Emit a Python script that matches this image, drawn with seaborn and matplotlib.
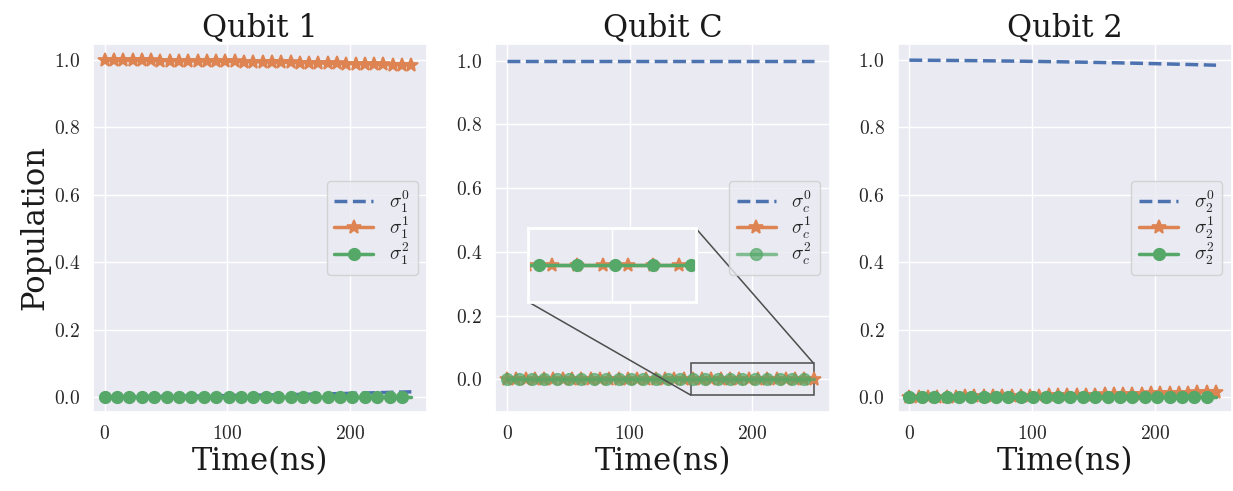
import numpy as np
import matplotlib
matplotlib.use("Agg")
import matplotlib.pyplot as plt
import seaborn as sns
from matplotlib.ticker import FuncFormatter
from mpl_toolkits.axes_grid1.inset_locator import mark_inset

# ---------------- data ----------------
time_ns = np.linspace(0, 250, 100)

leak_pop = [
    0.0000, 0.0001, 0.0001, 0.0002, 0.0003, 0.0003, 0.0004, 0.0004, 0.0005,
    0.0006, 0.0006, 0.0007, 0.0008, 0.0008, 0.0009, 0.0010, 0.0011, 0.0012, 0.0012,
    0.0013, 0.0014, 0.0015, 0.0016, 0.0017, 0.0018, 0.0019, 0.0020, 0.0021, 0.0022,
    0.0023, 0.0024, 0.0025, 0.0026, 0.0027, 0.0029, 0.0030, 0.0031, 0.0032, 0.0034,
    0.0035, 0.0036, 0.0037, 0.0039, 0.0040, 0.0042, 0.0043, 0.0044, 0.0046, 0.0047,
    0.0049, 0.0050, 0.0052, 0.0053, 0.0055, 0.0057, 0.0058, 0.0060, 0.0061, 0.0063,
    0.0065, 0.0067, 0.0068, 0.0070, 0.0072, 0.0074, 0.0075, 0.0077, 0.0079, 0.0081,
    0.0083, 0.0085, 0.0087, 0.0089, 0.0091, 0.0093, 0.0095, 0.0097, 0.0099, 0.0101,
    0.0103, 0.0105, 0.0108, 0.0110, 0.0112, 0.0114, 0.0116, 0.0119, 0.0121, 0.0123,
    0.0126, 0.0128, 0.0130, 0.0133, 0.0135, 0.0138, 0.0140, 0.0142, 0.0145, 0.0147,
    0.0150,
]

kept_pop = [
    1.0000, 0.9999, 0.9999, 0.9998, 0.9997, 0.9997, 0.9996, 0.9996, 0.9995,
    0.9994, 0.9994, 0.9993, 0.9992, 0.9992, 0.9991, 0.9990, 0.9989, 0.9988, 0.9988,
    0.9987, 0.9986, 0.9985, 0.9984, 0.9983, 0.9982, 0.9981, 0.9980, 0.9979, 0.9978,
    0.9977, 0.9976, 0.9975, 0.9974, 0.9973, 0.9971, 0.9970, 0.9969, 0.9968, 0.9966,
    0.9965, 0.9964, 0.9963, 0.9961, 0.9960, 0.9958, 0.9957, 0.9956, 0.9954, 0.9953,
    0.9951, 0.9950, 0.9948, 0.9947, 0.9945, 0.9943, 0.9942, 0.9940, 0.9939, 0.9937,
    0.9935, 0.9933, 0.9932, 0.9930, 0.9928, 0.9926, 0.9925, 0.9923, 0.9921, 0.9919,
    0.9917, 0.9915, 0.9913, 0.9911, 0.9909, 0.9907, 0.9905, 0.9903, 0.9901, 0.9899,
    0.9897, 0.9895, 0.9892, 0.9890, 0.9888, 0.9886, 0.9884, 0.9881, 0.9879, 0.9877,
    0.9874, 0.9872, 0.9870, 0.9867, 0.9865, 0.9862, 0.9860, 0.9858, 0.9855, 0.9853,
    0.9850,
]

zero_pop = [0.0] * 100
full_pop = [1.0] * 100

q1_sigma0 = leak_pop
q1_sigma1 = kept_pop
q1_sigma2 = zero_pop

qc_sigma0 = full_pop
qc_sigma1 = zero_pop
qc_sigma2 = zero_pop

q2_sigma0 = kept_pop
q2_sigma1 = leak_pop
q2_sigma2 = zero_pop

titles = ["Qubit 1", "Qubit C", "Qubit 2"]
subs = ["1", "c", "2"]
panels = [
    (q1_sigma0, q1_sigma1, q1_sigma2),
    (qc_sigma0, qc_sigma1, qc_sigma2),
    (q2_sigma0, q2_sigma1, q2_sigma2),
]

# ---------------- style ----------------
sns.set_theme(style="darkgrid")
plt.rcParams["font.family"] = ["DejaVu Serif"]
plt.rcParams["mathtext.fontset"] = "cm"

pal = sns.color_palette("deep")
c_blue, c_orange, c_green = pal[0], pal[1], pal[2]

fig, axes = plt.subplots(1, 3, figsize=(12.33, 4.91), dpi=100)
fig.subplots_adjust(left=93 / 1233, right=1232 / 1233,
                    bottom=1 - 412 / 491, top=1 - 44 / 491, wspace=0.2036)

yfmt = FuncFormatter(lambda v, p: "$%.1f$" % (0.0 if abs(v) < 1e-9 else v))
xfmt = FuncFormatter(lambda v, p: "$%d$" % int(round(v)))

STAR_MS = 10
CIRC_MS = 8.5


def draw(ax, s0, s1, s2, sub, green_alpha=1.0):
    sns.lineplot(x=time_ns, y=s0, ax=ax, color=c_blue, linestyle="--", lw=2.5,
                 label=r"$\sigma_{%s}^0$" % sub)
    sns.lineplot(x=time_ns, y=s1, ax=ax, color=c_orange, lw=2.5, marker="*",
                 markersize=STAR_MS, markevery=3, markeredgecolor=c_orange,
                 markeredgewidth=1.2, label=r"$\sigma_{%s}^1$" % sub)
    sns.lineplot(x=time_ns, y=s2, ax=ax, color=c_green, lw=2.5, marker="o",
                 markersize=CIRC_MS, markevery=4, markeredgecolor=c_green,
                 markeredgewidth=1, alpha=green_alpha,
                 label=r"$\sigma_{%s}^2$" % sub)


for i, ax in enumerate(axes):
    s0, s1, s2 = panels[i]
    draw(ax, s0, s1, s2, subs[i], green_alpha=0.7 if i == 1 else 1.0)
    ax.set_title(titles[i], fontsize=22, pad=6, color="0.1")
    ax.set_xlabel("Time(ns)", fontsize=22, labelpad=2, color="0.1")
    if i == 0:
        ax.set_ylabel("Population", fontsize=22, labelpad=2, color="0.1")
    else:
        ax.set_ylabel("")
    ax.set_xticks([0, 100, 200])
    ax.set_yticks([0.0, 0.2, 0.4, 0.6, 0.8, 1.0])
    ax.yaxis.set_major_formatter(yfmt)
    ax.xaxis.set_major_formatter(xfmt)
    ax.tick_params(labelsize=14)
    ax.legend(loc="center right", fontsize=14, labelspacing=0.0,
              borderpad=0.4)

axes[0].set_ylim(-0.045, 1.048)
axes[2].set_ylim(-0.045, 1.048)
axes[1].set_ylim(-0.1025, 1.0525)
for ax in axes:
    ax.set_xlim(-9.5, 263)

# ---------------- inset on Qubit C ----------------
axc = axes[1]
axins = axc.inset_axes([0.099, 0.299, 0.5, 0.201])
sns.lineplot(x=time_ns, y=qc_sigma1, ax=axins, color=c_orange, lw=2.5, marker="*",
             markersize=STAR_MS, markevery=(5, 6), markeredgecolor=c_orange,
             markeredgewidth=1.2)
sns.lineplot(x=time_ns, y=qc_sigma2, ax=axins, color=c_green, lw=2.5, marker="o",
             markersize=CIRC_MS, markevery=(8, 9), markeredgecolor=c_green,
             markeredgewidth=1)
axins.set_xlim(150, 250)
axins.set_ylim(-0.05, 0.05)
axins.set_xticks([200])
axins.set_yticks([0.0])
axins.set_xticklabels([])
axins.set_yticklabels([])
axins.set_xlabel("")
axins.set_ylabel("")
axins.tick_params(length=0)
for sp in axins.spines.values():
    sp.set_visible(True)
    sp.set_edgecolor("white")
    sp.set_linewidth(2)
mark_inset(axc, axins, loc1=1, loc2=3, fc="none", ec="0.3", lw=1.1)

fig.savefig("out.png", dpi=100)
